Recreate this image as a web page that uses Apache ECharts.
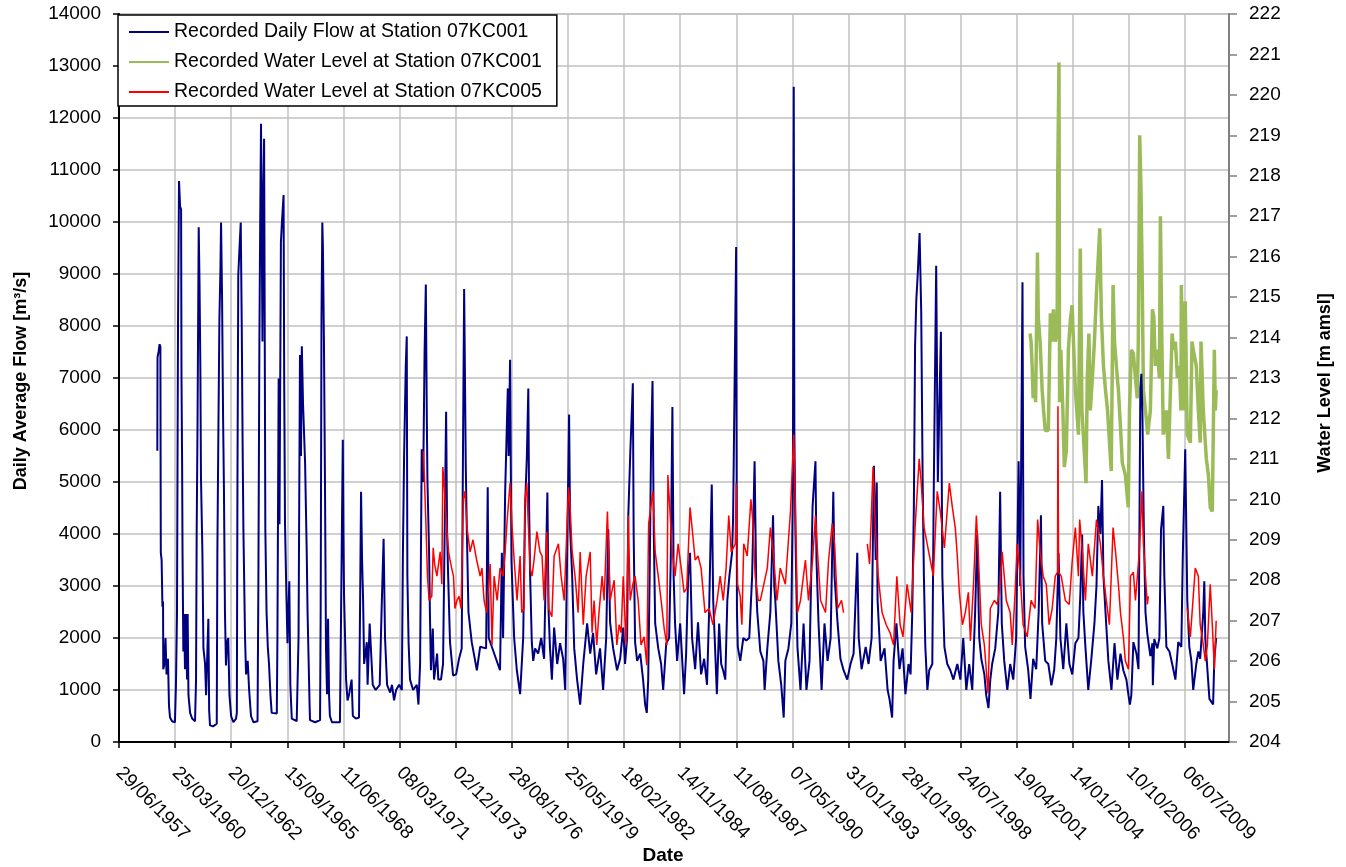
<!DOCTYPE html>
<html>
<head>
<meta charset="utf-8">
<script src="https://cdn.jsdelivr.net/npm/echarts@6/dist/echarts.min.js"></script>
<style>html,body{margin:0;padding:0;background:#fff}#chart{width:1346px;height:867px}</style>
</head>
<body>
<div id="chart"></div>
<script>
// ---- data (x = decimal year, y = value) ----
const seriesNames = ['Recorded Daily Flow at Station 07KC001','Recorded Water Level at Station 07KC001','Recorded Water Level at Station 07KC005'];
const axisTitles = ['Daily Average Flow [m³/s]','Water Level [m amsl]','Date'];

const flow07KC001 = [
[1959.36,5600],[1959.37,7400],[1959.42,7500],[1959.47,7650],[1959.51,7600],[1959.53,3640],[1959.57,3500],[1959.61,2600],[1959.64,2700],[1959.65,1400],[1959.71,1500],[1959.76,2000],[1959.81,1300],[1959.88,1600],[1959.93,700],[1959.98,470],[1960.08,400],[1960.22,380],
[1960.27,1100],[1960.32,2460],[1960.37,8000],[1960.42,10790],[1960.47,10300],[1960.52,10240],[1960.54,7000],[1960.57,5360],[1960.59,3640],[1960.63,1740],[1960.67,2460],[1960.71,1400],[1960.76,2460],[1960.81,1200],[1960.84,2460],[1960.88,900],[1960.96,560],[1961.06,450],[1961.20,400],
[1961.25,1200],[1961.28,4000],[1961.32,6000],[1961.38,9900],[1961.42,8800],[1961.46,7200],[1961.49,5090],[1961.56,3640],[1961.61,1800],[1961.69,1500],[1961.74,900],[1961.85,2370],[1961.89,600],[1961.93,320],[1962.08,300],[1962.26,350],
[1962.29,3640],[1962.34,6000],[1962.39,8160],[1962.44,9100],[1962.47,9990],[1962.52,8520],[1962.57,6200],[1962.61,4900],[1962.66,2500],[1962.71,1470],[1962.76,1900],[1962.82,2000],[1962.88,900],[1962.96,500],[1963.07,380],[1963.20,450],
[1963.24,560],[1963.27,5000],[1963.31,8980],[1963.37,9500],[1963.43,9990],[1963.48,7980],[1963.52,5800],[1963.56,4100],[1963.64,2000],[1963.69,1300],[1963.77,1560],[1963.84,1000],[1963.93,500],[1964.05,380],[1964.25,400],
[1964.29,3000],[1964.34,7700],[1964.38,10000],[1964.42,11890],[1964.46,9500],[1964.49,7700],[1964.53,10500],[1964.57,11600],[1964.60,8000],[1964.63,4100],[1964.69,2500],[1964.75,1830],[1964.81,1500],[1964.88,900],[1964.94,560],[1965.19,550],
[1965.22,2000],[1965.28,6990],[1965.32,4190],[1965.37,8000],[1965.39,9610],[1965.44,10000],[1965.52,10520],[1965.55,7000],[1965.59,4190],[1965.66,2800],[1965.71,1900],[1965.80,3090],[1965.85,1100],[1965.92,450],[1966.16,400],
[1966.25,2000],[1966.32,7440],[1966.37,5500],[1966.41,7610],[1966.47,6500],[1966.57,5360],[1966.65,3640],[1966.69,2500],[1966.74,1600],[1966.79,700],[1966.81,420],[1967.06,380],[1967.30,420],
[1967.33,2500],[1967.37,8160],[1967.41,9990],[1967.44,9500],[1967.49,7700],[1967.54,4990],[1967.59,1800],[1967.64,920],[1967.69,2370],[1967.74,900],[1967.78,500],[1967.88,380],[1968.27,380],
[1968.32,2280],[1968.41,5810],[1968.44,4000],[1968.47,2820],[1968.57,1200],[1968.64,800],[1968.71,900],[1968.84,1200],[1968.90,500],[1969.05,450],[1969.20,470],
[1969.25,2500],[1969.30,4810],[1969.35,3500],[1969.40,2730],[1969.45,1500],[1969.58,1920],[1969.62,1100],[1969.72,2280],[1969.87,1100],[1970.01,1000],[1970.21,1100],
[1970.30,2500],[1970.40,3910],[1970.47,2000],[1970.57,1100],[1970.72,950],[1970.81,1100],[1970.91,800],[1971.01,1000],[1971.16,1100],[1971.29,1000],
[1971.34,3550],[1971.40,5500],[1971.48,7200],[1971.53,7800],[1971.56,3190],[1971.62,1900],[1971.69,1200],[1971.84,1000],[1972.02,1100],[1972.10,720],
[1972.18,1500],[1972.26,5630],[1972.33,5000],[1972.40,7500],[1972.46,8800],[1972.51,6180],[1972.54,5000],[1972.62,3640],[1972.66,2460],[1972.71,1380],[1972.80,2180],[1972.86,1200],[1973.01,1700],[1973.07,1200],[1973.20,1200],
[1973.30,1500],[1973.45,6350],[1973.50,4000],[1973.55,3190],[1973.64,1920],[1973.79,1280],[1973.94,1300],[1974.08,1600],[1974.21,1800],
[1974.28,6000],[1974.33,8710],[1974.41,5270],[1974.46,4090],[1974.54,2500],[1974.70,1920],[1974.95,1380],[1975.11,1830],[1975.40,1800],[1975.48,4900],[1975.53,2000],[1975.76,1740],[1976.08,1380],
[1976.17,3640],[1976.23,2000],[1976.33,4800],[1976.46,6800],[1976.50,5500],[1976.57,7350],[1976.64,3460],[1976.77,2000],[1976.90,1380],[1977.06,920],
[1977.21,2000],[1977.30,4500],[1977.39,5500],[1977.46,6800],[1977.50,4500],[1977.55,3190],[1977.63,1920],[1977.70,1560],[1977.79,1800],[1977.94,1700],[1978.09,2000],[1978.23,1600],
[1978.39,4800],[1978.45,2500],[1978.52,1800],[1978.61,1200],[1978.72,2200],[1978.87,1500],[1979.01,1900],[1979.16,1600],[1979.26,1000],
[1979.35,3500],[1979.45,6300],[1979.50,4100],[1979.60,3190],[1979.70,1800],[1979.84,1200],[1979.99,720],[1980.14,1500],[1980.33,2280],[1980.48,1700],[1980.62,2100],[1980.77,1300],[1980.96,1800],[1981.11,1000],
[1981.26,2000],[1981.36,4090],[1981.45,2300],[1981.60,1800],[1981.79,1380],[1981.94,1600],[1982.09,2200],[1982.18,1500],[1982.28,2000],
[1982.34,4370],[1982.43,5500],[1982.56,6900],[1982.60,4000],[1982.67,1920],[1982.77,1560],[1982.92,1700],[1983.06,1200],[1983.16,720],[1983.24,560],
[1983.31,1200],[1983.38,3190],[1983.45,5720],[1983.52,6940],[1983.58,4100],[1983.65,2280],[1983.80,1800],[1983.94,1500],[1984.04,1000],[1984.19,1900],[1984.33,2000],
[1984.41,3500],[1984.49,6440],[1984.55,3190],[1984.62,2280],[1984.72,1560],[1984.87,2280],[1985.06,920],[1985.16,1700],
[1985.26,3190],[1985.35,3640],[1985.45,2000],[1985.60,1400],[1985.74,2300],[1985.89,1300],[1986.04,1600],[1986.18,1100],
[1986.28,2500],[1986.41,4950],[1986.48,2730],[1986.57,1830],[1986.66,920],[1986.77,2280],[1986.87,1500],[1986.97,1370],[1987.07,1200],[1987.17,2730],[1987.27,3190],[1987.40,3640],[1987.45,4270],
[1987.60,9520],[1987.64,2500],[1987.68,1830],[1987.80,1560],[1987.95,2000],[1988.09,1950],[1988.24,2000],
[1988.38,3190],[1988.50,5400],[1988.58,3000],[1988.63,2500],[1988.78,1740],[1988.93,1560],[1988.99,1000],[1989.12,1800],[1989.27,2500],
[1989.40,4360],[1989.46,3000],[1989.51,2730],[1989.66,1560],[1989.80,1100],[1989.92,470],[1990.00,1560],[1990.15,1800],[1990.29,2280],
[1990.37,5000],[1990.41,12600],[1990.44,6000],[1990.49,4090],[1990.59,1830],[1990.74,1000],[1990.89,2280],[1991.03,1000],[1991.18,1560],
[1991.33,4540],[1991.47,5400],[1991.52,3500],[1991.62,2280],[1991.77,1000],[1991.91,2280],[1992.06,1560],[1992.21,2000],
[1992.34,4810],[1992.40,3190],[1992.55,2280],[1992.69,1600],[1992.84,1380],[1993.02,1200],[1993.18,1500],[1993.33,1700],
[1993.51,3640],[1993.58,2000],[1993.72,1400],[1993.92,1830],[1994.06,1500],[1994.21,2000],
[1994.32,5310],[1994.41,3500],[1994.46,4990],[1994.50,2730],[1994.65,1560],[1994.84,1800],[1994.99,1000],[1995.08,830],[1995.21,470],
[1995.28,1560],[1995.42,2280],[1995.57,1400],[1995.72,1800],[1995.86,920],[1996.01,1500],[1996.11,1300],
[1996.19,2460],[1996.27,4500],[1996.33,7620],[1996.39,8500],[1996.46,9000],[1996.55,9790],[1996.63,8250],[1996.70,4990],[1996.76,3190],[1996.83,1830],[1996.93,1000],[1997.02,1380],[1997.17,1500],
[1997.24,4800],[1997.36,9160],[1997.44,5000],[1997.49,5000],[1997.59,7890],[1997.66,3190],[1997.76,1830],[1997.90,1500],[1998.05,1380],[1998.20,1200],[1998.39,1500],[1998.54,1200],[1998.68,2000],[1998.83,1000],[1998.97,1500],[1999.12,1000],
[1999.26,2500],[1999.36,3990],[1999.46,2000],[1999.56,1600],[1999.71,1300],[1999.80,900],[1999.91,650],[2000.00,1200],[2000.09,1500],[2000.24,1800],[2000.39,2500],
[2000.48,4810],[2000.56,2280],[2000.68,1560],[2000.83,1000],[2000.97,1500],[2001.12,1200],[2001.26,2000],
[2001.38,5400],[2001.46,3000],[2001.57,8840],[2001.62,3190],[2001.70,1830],[2001.85,1380],[2001.96,830],[2002.09,1600],[2002.24,1400],
[2002.36,2500],[2002.47,4360],[2002.53,2280],[2002.68,1560],[2002.83,1500],[2002.98,1090],[2003.12,1400],[2003.22,2000],
[2003.33,3640],[2003.42,2000],[2003.56,1400],[2003.71,2280],[2003.86,1500],[2004.00,1300],[2004.15,1900],[2004.30,2000],[2004.39,2800],
[2004.48,3990],[2004.54,2500],[2004.64,1830],[2004.78,1000],[2004.93,1600],[2005.08,2280],[2005.18,3000],
[2005.27,4540],[2005.37,4000],[2005.45,5040],[2005.52,3190],[2005.62,2500],[2005.76,1560],[2005.91,1000],[2006.06,1900],[2006.20,1200],[2006.35,1700],[2006.49,1380],[2006.64,1200],[2006.74,900],[2006.81,720],[2006.88,900],[2006.98,1920],[2007.13,1700],[2007.23,1400],
[2007.32,6800],[2007.37,7080],[2007.42,6350],[2007.49,4090],[2007.57,2500],[2007.66,2080],[2007.81,1650],[2007.91,1900],[2007.93,1090],[2008.00,1980],[2008.15,1800],[2008.25,2000],
[2008.33,4090],[2008.44,4540],[2008.49,3190],[2008.59,1830],[2008.74,1740],[2008.89,1470],[2009.03,1200],[2009.17,1920],[2009.32,1830],
[2009.39,3550],[2009.51,5630],[2009.61,2730],[2009.71,1830],[2009.81,1560],[2009.90,1000],[2010.05,1500],[2010.15,1740],[2010.24,1600],
[2010.39,2500],[2010.44,3090],[2010.49,1980],[2010.59,1400],[2010.69,830],[2010.87,720],[2010.93,1600],[2011.02,2000]
];

const level07KC001 = [
[2001.94,214.1],[2001.99,213.9],[2002.04,213.3],[2002.09,212.5],[2002.16,213.0],[2002.21,212.4],[2002.30,216.1],[2002.34,214.5],[2002.43,213.9],[2002.53,212.7],[2002.60,212.2],[2002.68,211.7],[2002.83,211.7],[2002.93,214.6],[2003.00,213.9],[2003.08,214.7],[2003.17,213.9],[2003.26,214.1],[2003.29,218.0],[2003.35,220.8],[2003.38,212.4],[2003.44,213.7],[2003.54,212.2],[2003.61,210.8],[2003.71,211.2],[2003.81,213.7],[2003.90,214.4],[2003.99,214.8],[2004.15,212.7],[2004.30,211.6],[2004.39,216.2],[2004.47,212.2],[2004.67,210.4],[2004.73,213.0],[2004.81,214.1],[2004.88,212.2],[2004.98,213.0],[2005.08,213.9],[2005.18,215.1],[2005.34,216.7],[2005.42,214.5],[2005.52,213.3],[2005.62,212.7],[2005.72,212.2],[2005.90,210.7],[2005.99,215.3],[2006.06,213.9],[2006.15,213.3],[2006.25,212.7],[2006.35,211.8],[2006.44,210.9],[2006.59,210.6],[2006.73,209.8],[2006.79,212.2],[2006.88,213.7],[2006.98,213.6],[2007.08,213.0],[2007.17,212.5],[2007.22,213.9],[2007.29,219.0],[2007.35,217.7],[2007.40,215.9],[2007.47,212.7],[2007.57,212.2],[2007.68,211.6],[2007.81,212.2],[2007.91,214.7],[2007.98,214.5],[2008.05,213.3],[2008.15,213.7],[2008.25,213.0],[2008.30,217.0],[2008.37,213.9],[2008.44,211.6],[2008.59,212.2],[2008.69,211.0],[2008.87,214.1],[2008.94,213.7],[2009.03,213.9],[2009.13,213.0],[2009.22,213.3],[2009.30,212.2],[2009.32,215.3],[2009.42,212.2],[2009.51,214.9],[2009.61,211.6],[2009.76,211.4],[2009.84,213.9],[2009.90,213.7],[2010.05,213.3],[2010.15,212.2],[2010.24,211.4],[2010.28,213.9],[2010.39,212.2],[2010.54,211.0],[2010.64,210.6],[2010.73,209.8],[2010.83,209.7],[2010.93,213.7],[2010.98,212.2],[2011.02,212.7]
];

const level07KC005 = [
[1972.34,211.2],[1972.40,210.4],[1972.47,209.3],[1972.54,208.1],[1972.62,207.5],[1972.75,207.6],[1972.82,208.8],[1972.89,208.4],[1973.00,208.1],[1973.07,208.1],[1973.16,208.7],[1973.24,207.9],[1973.29,210.8],[1973.35,210.4],[1973.48,209.3],[1973.57,208.7],[1973.64,208.5],[1973.72,208.3],[1973.81,208.1],[1973.88,207.3],[1973.98,207.5],[1974.08,207.6],[1974.18,207.3],[1974.29,210.0],[1974.37,210.2],[1974.47,209.3],[1974.62,208.7],[1974.76,209.0],[1974.94,208.5],[1975.11,208.1],[1975.20,208.3],[1975.30,207.5],[1975.43,207.2],[1975.50,207.7],[1975.60,208.4],[1975.69,206.4],[1975.79,208.1],[1975.94,207.5],[1976.08,208.3],[1976.23,208.1],[1976.33,208.7],[1976.43,209.5],[1976.57,210.4],[1976.67,209.3],[1976.77,208.5],[1976.91,207.5],
[1977.06,208.6],[1977.14,207.2],[1977.25,207.3],[1977.30,210.0],[1977.39,210.4],[1977.45,209.5],[1977.55,208.3],[1977.64,208.1],[1977.74,208.5],[1977.88,209.2],[1978.03,208.7],[1978.13,208.6],[1978.23,207.5],[1978.36,209.2],[1978.45,207.3],[1978.61,207.1],[1978.72,208.6],[1978.93,208.9],[1979.06,208.1],[1979.21,207.5],[1979.42,210.3],[1979.50,209.8],[1979.60,208.7],[1979.74,208.1],[1979.89,207.2],[1979.99,208.7],[1980.14,206.9],[1980.28,208.1],[1980.48,208.7],[1980.57,206.7],[1980.67,207.5],[1980.80,206.4],[1980.91,207.2],[1981.06,208.1],[1981.16,207.5],[1981.32,209.7],[1981.45,207.5],[1981.65,208.0],[1981.78,206.4],[1981.89,206.9],[1981.99,206.7],
[1982.09,208.1],[1982.23,206.4],[1982.34,209.6],[1982.43,207.5],[1982.56,207.9],[1982.67,208.1],[1982.82,207.5],[1982.96,206.4],[1983.11,206.6],[1983.24,205.9],[1983.33,209.4],[1983.54,210.2],[1983.65,208.7],[1983.80,208.1],[1983.94,207.5],[1984.09,206.8],[1984.22,206.4],[1984.27,210.6],[1984.36,209.8],[1984.48,208.7],[1984.62,208.1],[1984.77,208.9],[1984.92,208.3],[1985.06,207.7],[1985.19,207.8],[1985.35,209.8],[1985.45,209.3],[1985.60,208.5],[1985.74,208.6],[1985.89,208.3],[1986.08,207.2],[1986.28,207.3],[1986.47,206.9],[1986.67,207.5],[1986.82,208.1],[1986.97,207.5],
[1987.11,208.3],[1987.24,209.6],[1987.36,208.7],[1987.56,208.9],[1987.60,210.4],[1987.67,207.9],[1987.80,207.6],[1987.88,206.9],[1987.97,208.9],[1988.14,208.6],[1988.32,210.0],[1988.41,209.5],[1988.53,208.1],[1988.68,207.5],[1988.78,207.5],[1989.12,208.3],[1989.27,209.3],[1989.41,208.7],[1989.59,207.5],[1989.75,208.3],[1990.00,207.9],[1990.25,209.7],[1990.41,211.6],[1990.49,209.8],[1990.59,207.2],[1990.74,207.5],[1990.98,208.5],[1991.13,207.5],[1991.33,208.5],[1991.47,209.6],[1991.57,208.7],[1991.72,207.5],[1991.96,207.2],[1992.11,208.5],[1992.29,209.4],[1992.40,208.9],[1992.55,207.3],[1992.74,207.5],[1992.84,207.2],[1993.40,null],
[1994.00,208.9],[1994.11,208.4],[1994.28,210.8],[1994.39,209.3],[1994.53,208.1],[1994.72,207.2],[1994.92,206.9],[1995.11,206.7],[1995.28,206.4],[1995.44,208.1],[1995.60,206.9],[1995.74,206.6],[1995.94,207.9],[1996.14,207.2],[1996.33,209.3],[1996.53,211.0],[1996.63,210.4],[1996.77,209.3],[1996.92,208.9],[1997.07,208.5],[1997.22,208.1],[1997.41,210.2],[1997.56,209.7],[1997.76,208.8],[1998.00,210.4],[1998.15,209.8],[1998.29,209.3],[1998.39,208.6],[1998.49,207.7],[1998.64,206.9],[1998.78,207.2],[1998.93,207.7],[1999.03,206.5],[1999.18,207.9],[1999.32,209.6],[1999.41,208.7],[1999.56,206.9],[1999.71,206.4],[1999.89,205.2],
[2000.00,207.3],[2000.20,207.5],[2000.34,207.4],[2000.48,207.9],[2000.58,208.7],[2000.78,207.5],[2000.97,207.2],[2001.07,206.4],[2001.21,207.7],[2001.31,208.9],[2001.46,208.1],[2001.60,206.9],[2001.80,206.6],[2001.99,207.5],[2002.18,207.3],[2002.31,209.5],[2002.43,208.7],[2002.58,208.1],[2002.73,207.9],[2002.87,206.9],[2003.02,207.3],[2003.17,208.1],[2003.28,208.2],[2003.30,212.3],[2003.33,208.2],[2003.46,208.1],[2003.66,207.5],[2003.85,207.4],[2004.00,208.5],[2004.15,209.3],[2004.30,208.1],[2004.36,209.5],[2004.49,208.7],[2004.64,207.5],[2004.78,208.9],[2004.98,208.1],
[2005.18,209.5],[2005.37,208.9],[2005.52,208.1],[2005.66,207.5],[2005.81,206.9],[2005.99,209.3],[2006.11,208.7],[2006.25,207.9],[2006.35,207.2],[2006.49,206.6],[2006.59,206.0],[2006.74,205.8],[2006.84,208.1],[2006.98,208.2],[2007.08,207.5],[2007.17,207.5],[2007.27,208.7],[2007.40,210.2],[2007.47,208.9],[2007.57,208.1],[2007.66,207.4],[2007.71,207.6],[2008.60,null],
[2009.61,207.3],[2009.76,206.6],[2010.00,208.3],[2010.15,208.1],[2010.24,206.9],[2010.39,206.4],[2010.49,206.0],[2010.59,206.4],[2010.73,207.9],[2010.83,206.9],[2010.93,205.8],[2011.02,207.0]
];

// ---- helpers ----
const FONT = '"Liberation Sans", Arial, Helvetica, sans-serif';
function toSerial(yr) { return 21186 + (yr - 1958) * 365.25; } // Excel-style day number
function toPoints(arr) { return arr.map(p => [toSerial(p[0]), p[1]]); }
function fmtDate(v) {
  if (Math.abs(v % 1000) > 1e-6) return '';
  const d = new Date(Date.UTC(1899, 11, 30) + v * 86400000);
  const dd = String(d.getUTCDate()).padStart(2, '0');
  const mm = String(d.getUTCMonth() + 1).padStart(2, '0');
  return dd + '/' + mm + '/' + d.getUTCFullYear();
}
const plain = v => String(v);

const chart = echarts.init(document.getElementById('chart'), null, {renderer: 'canvas'});
const option = {
  animation: false,
  backgroundColor: '#ffffff',
  textStyle: {fontFamily: FONT},
  grid: {left: 119, right: 117, top: 14, bottom: 125, show: true, borderColor: '#a6a6a6', borderWidth: 1, backgroundColor: 'transparent'},
  legend: {
    orient: 'vertical', left: 118, top: 15,
    data: seriesNames,
    backgroundColor: '#ffffff', borderColor: '#000000', borderWidth: 1.5,
    padding: [7, 15, 4, 10], itemGap: 10, itemWidth: 40, itemHeight: 14,
    itemStyle: {opacity: 0, borderWidth: 0},
    textStyle: {fontSize: 19.5, color: '#000', fontFamily: FONT}
  },
  xAxis: {
    type: 'value', min: 21000, max: 40780, interval: 1000,
    axisLine: {lineStyle: {color: '#000', width: 2}},
    axisTick: {length: 6, lineStyle: {color: '#000', width: 1.5}},
    splitLine: {show: true, lineStyle: {color: '#c0c0c0', width: 1.5}},
    axisLabel: {rotate: -45, margin: 28, fontSize: 19, color: '#000', fontFamily: FONT, formatter: fmtDate, showMaxLabel: false}
  },
  yAxis: [
    {type: 'value', min: 0, max: 14000, interval: 1000, position: 'left',
     axisLine: {show: true, lineStyle: {color: '#000', width: 2}},
     axisTick: {show: true, length: 6, lineStyle: {color: '#000', width: 1.5}},
     axisLabel: {fontSize: 19, color: '#000', margin: 18, fontFamily: FONT, formatter: plain},
     splitLine: {show: true, lineStyle: {color: '#c0c0c0', width: 1.5}}},
    {type: 'value', min: 204, max: 222, interval: 1, position: 'right',
     axisLine: {show: true, lineStyle: {color: '#808080', width: 2}},
     axisTick: {show: true, length: 8, lineStyle: {color: '#808080', width: 1.5}},
     axisLabel: {fontSize: 19, color: '#000', margin: 20, fontFamily: FONT, formatter: plain},
     splitLine: {show: false}}
  ],
  series: [
    {name: seriesNames[1], type: 'line', yAxisIndex: 1, data: toPoints(level07KC001), symbol: 'none',
     lineStyle: {color: '#9bbb59', width: 3.5}, itemStyle: {color: '#9bbb59'}, z: 2},
    {name: seriesNames[0], type: 'line', yAxisIndex: 0, data: toPoints(flow07KC001), symbol: 'none',
     lineStyle: {color: '#000080', width: 2}, itemStyle: {color: '#000080'}, z: 3},
    {name: seriesNames[2], type: 'line', yAxisIndex: 1, data: toPoints(level07KC005), symbol: 'none', connectNulls: false,
     lineStyle: {color: '#ff0000', width: 1.5}, itemStyle: {color: '#ff0000'}, z: 4}
  ],
  graphic: [
    {type: 'text', x: 21, y: 381, rotation: Math.PI / 2, silent: true,
     style: {text: axisTitles[0], font: 'bold 18px ' + FONT, fill: '#000', align: 'center', verticalAlign: 'middle'}},
    {type: 'text', x: 1325, y: 383, rotation: Math.PI / 2, silent: true,
     style: {text: axisTitles[1], font: 'bold 18px ' + FONT, fill: '#000', align: 'center', verticalAlign: 'middle'}},
    {type: 'text', x: 663, y: 856, silent: true,
     style: {text: axisTitles[2], font: 'bold 19px ' + FONT, fill: '#000', align: 'center', verticalAlign: 'middle'}}
  ]
};
chart.setOption(option);
</script>
</body>
</html>
